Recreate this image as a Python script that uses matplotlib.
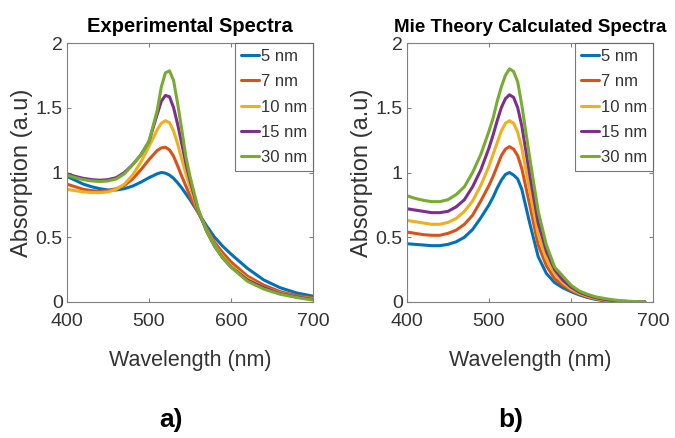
import matplotlib
matplotlib.use("Agg")
import matplotlib.pyplot as plt

# ---------------- data ----------------
sizes = ["5 nm", "7 nm", "10 nm", "15 nm", "30 nm"]
colors = ["#0072BD", "#D95319", "#EDB120", "#7E2F8E", "#77AC30"]

wl_exp = [400, 410, 420, 430, 440, 450, 460, 470, 480, 490, 500, 510, 515, 520, 525, 530,
          535, 540, 545, 550, 560, 570, 580, 590, 600, 620, 640, 660, 680, 700]
exp_5 = [0.97, 0.94, 0.91, 0.89, 0.875, 0.865, 0.865, 0.875, 0.895, 0.925, 0.96, 0.99, 1.0, 0.995,
         0.98, 0.955, 0.92, 0.88, 0.835, 0.79, 0.69, 0.59, 0.50, 0.43, 0.37, 0.26, 0.17, 0.11,
         0.07, 0.045]
exp_7 = [0.91, 0.89, 0.87, 0.86, 0.855, 0.86, 0.875, 0.90, 0.95, 1.02, 1.10, 1.17, 1.19, 1.195,
         1.175, 1.125, 1.05, 0.97, 0.895, 0.82, 0.69, 0.57, 0.46, 0.38, 0.31, 0.20, 0.13, 0.08,
         0.05, 0.03]
exp_10 = [0.87, 0.86, 0.85, 0.845, 0.845, 0.85, 0.87, 0.91, 0.98, 1.08, 1.20, 1.33, 1.38, 1.40,
          1.385, 1.32, 1.22, 1.10, 0.99, 0.89, 0.70, 0.56, 0.44, 0.35, 0.28, 0.18, 0.11, 0.07,
          0.04, 0.025]
exp_15 = [0.99, 0.97, 0.955, 0.945, 0.94, 0.945, 0.96, 1.00, 1.06, 1.135, 1.24, 1.45, 1.55, 1.595,
          1.585, 1.50, 1.37, 1.22, 1.07, 0.94, 0.71, 0.55, 0.43, 0.34, 0.27, 0.17, 0.11, 0.065,
          0.04, 0.02]
exp_30 = [0.98, 0.96, 0.945, 0.935, 0.93, 0.935, 0.95, 0.99, 1.06, 1.135, 1.24, 1.48, 1.66, 1.77,
          1.785, 1.71, 1.53, 1.33, 1.12, 0.97, 0.72, 0.55, 0.43, 0.34, 0.27, 0.16, 0.10, 0.06,
          0.035, 0.015]

wl_mie = [400, 410, 420, 430, 440, 450, 460, 470, 480, 490, 500, 505, 510, 515, 520, 525, 530,
          535, 540, 550, 560, 570, 580, 590, 600, 610, 620, 630, 640, 650, 660, 670, 680, 690]
mie_5 = [0.45, 0.445, 0.44, 0.435, 0.435, 0.445, 0.465, 0.50, 0.56, 0.65, 0.75, 0.81, 0.88, 0.94,
         0.985, 1.0, 0.98, 0.95, 0.87, 0.60, 0.35, 0.22, 0.15, 0.11, 0.08, 0.055, 0.035, 0.02,
         0.01, 0.005, 0.002, 0.001, 0.0, 0.0]
mie_7 = [0.54, 0.53, 0.52, 0.515, 0.515, 0.53, 0.555, 0.60, 0.67, 0.78, 0.90, 0.97, 1.05, 1.13,
         1.18, 1.20, 1.18, 1.13, 1.03, 0.74, 0.44, 0.28, 0.18, 0.13, 0.09, 0.062, 0.04, 0.025,
         0.014, 0.008, 0.004, 0.002, 0.001, 0.0]
mie_10 = [0.63, 0.62, 0.61, 0.60, 0.60, 0.615, 0.645, 0.70, 0.78, 0.90, 1.05, 1.14, 1.23, 1.32,
          1.38, 1.40, 1.38, 1.31, 1.19, 0.85, 0.52, 0.33, 0.22, 0.15, 0.10, 0.068, 0.045, 0.028,
          0.017, 0.01, 0.005, 0.003, 0.001, 0.0]
mie_15 = [0.72, 0.71, 0.70, 0.69, 0.69, 0.70, 0.735, 0.79, 0.89, 1.02, 1.19, 1.29, 1.40, 1.50,
          1.57, 1.60, 1.58, 1.50, 1.36, 0.97, 0.61, 0.39, 0.25, 0.17, 0.115, 0.076, 0.052, 0.033,
          0.021, 0.012, 0.007, 0.004, 0.002, 0.0]
mie_30 = [0.82, 0.80, 0.785, 0.775, 0.775, 0.79, 0.83, 0.89, 1.00, 1.14, 1.32, 1.42, 1.55, 1.66,
          1.75, 1.80, 1.78, 1.70, 1.52, 1.10, 0.70, 0.44, 0.27, 0.20, 0.13, 0.085, 0.06, 0.04,
          0.028, 0.018, 0.01, 0.006, 0.003, 0.001]

x_ticks = [400, 500, 600, 700]
y_ticks = [0, 0.5, 1, 1.5, 2]
y_ticklabels = ["0", "0.5", "1", "1.5", "2"]
titles = ["Experimental Spectra", "Mie Theory Calculated Spectra"]
panel_labels = ["a)", "b)"]

# ---------------- drawing ----------------
FAM = ["Liberation Sans", "DejaVu Sans"]
fig = plt.figure(figsize=(6.75, 4.38), dpi=100)
W, H = 675, 438
axes_px = [(67, 43, 313, 302), (407, 43, 653, 302)]
panels = [(wl_exp, [exp_5, exp_7, exp_10, exp_15, exp_30]),
          (wl_mie, [mie_5, mie_7, mie_10, mie_15, mie_30])]
title_sizes = [14.5, 13.5]
gray = "#333333"
spine = "#808080"

for i, ((x0, y0, x1, y1), (wl, series)) in enumerate(zip(axes_px, panels)):
    ax = fig.add_axes([x0 / W, 1 - y1 / H, (x1 - x0) / W, (y1 - y0) / H])
    for s, c, lab in zip(series, colors, sizes):
        ax.plot(wl, s, color=c, lw=2.2, label=lab, solid_capstyle="round",
                solid_joinstyle="round")
    ax.set_xlim(400, 700)
    ax.set_ylim(0, 2)
    ax.set_xticks(x_ticks)
    ax.set_yticks(y_ticks)
    ax.set_yticklabels(y_ticklabels)
    ax.tick_params(direction="in", top=True, right=True, length=3, width=0.8,
                   colors=spine, labelcolor=gray, labelsize=14)
    ax.tick_params(axis="x", pad=8)
    ax.tick_params(axis="y", pad=3)
    for lb in ax.get_xticklabels() + ax.get_yticklabels():
        lb.set_family(FAM)
    for sp in ax.spines.values():
        sp.set_color(spine)
        sp.set_linewidth(0.8)
    ax.set_xlabel("Wavelength (nm)", fontsize=15.5, color=gray, family=FAM, labelpad=14)
    ax.set_ylabel("Absorption (a.u)", fontsize=17, color=gray, family=FAM, labelpad=2)
    ax.set_title(titles[i], fontsize=title_sizes[i], fontweight="bold", color="black",
                 family=FAM, pad=8)
    leg = ax.legend(loc="upper right", frameon=True, fancybox=False,
                    handlelength=1.1, handletextpad=0.12, borderpad=0.35, labelspacing=0.62,
                    borderaxespad=0.0, prop={"family": FAM, "size": 12})
    leg.get_frame().set_edgecolor("#555555")
    leg.get_frame().set_linewidth(0.8)
    for t in leg.get_texts():
        t.set_color(gray)
    fig.text(((x0 + x1) / 2) / W - 19 / W, 1 - 420 / H, panel_labels[i], ha="center",
             va="center", fontsize=19, fontweight="bold", family=FAM)

fig.savefig("out.png", dpi=100)
